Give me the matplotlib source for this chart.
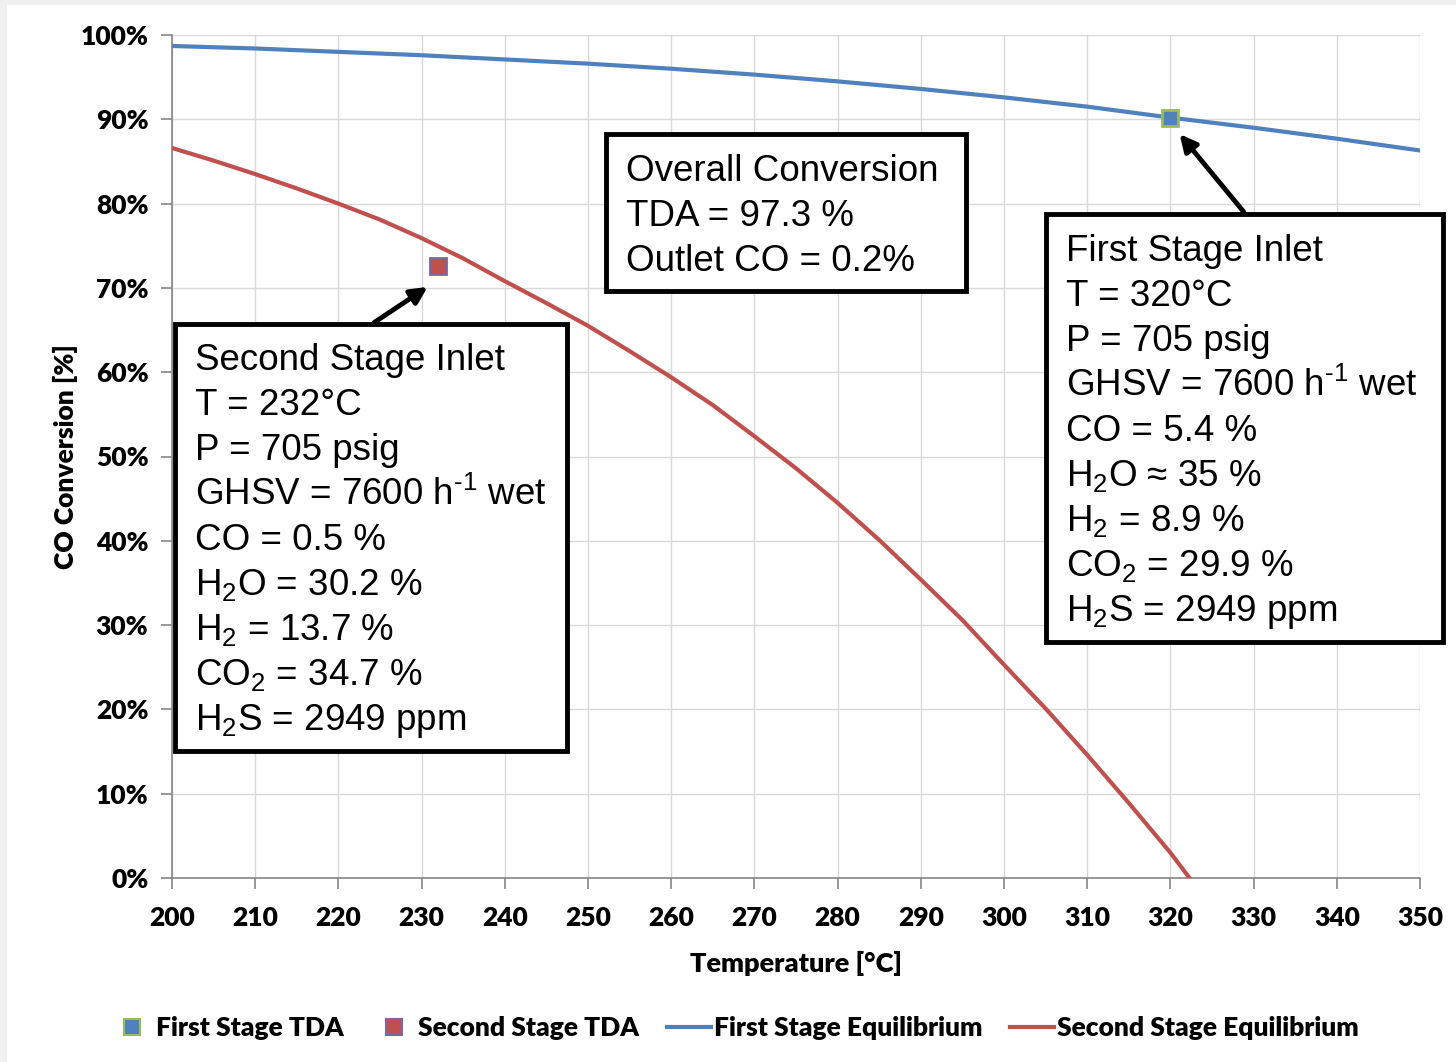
import matplotlib.pyplot as plt
from matplotlib.lines import Line2D
from matplotlib.patches import Rectangle

plt.rcParams['mathtext.fontset'] = 'custom'
plt.rcParams['mathtext.rm'] = 'Liberation Sans'
plt.rcParams['mathtext.it'] = 'Liberation Sans'

# equilibrium curves
temp_eq1 = [200, 210, 220, 230, 240, 250, 260, 270, 280, 290, 300, 310, 320, 330, 340, 350]
conv_eq1 = [98.7, 98.4, 98.0, 97.6, 97.1, 96.6, 96.0, 95.3, 94.5, 93.6, 92.6, 91.5, 90.2, 89.0, 87.7, 86.3]
temp_eq2 = [200, 205, 210, 215, 220, 225, 230, 235, 240, 245, 250, 255, 260, 265, 270,
            275, 280, 285, 290, 295, 300, 305, 310, 315, 320, 322.3]
conv_eq2 = [86.6, 85.1, 83.5, 81.8, 80.0, 78.1, 75.9, 73.5, 70.8, 68.2, 65.5, 62.5, 59.4, 56.1, 52.4,
            48.6, 44.5, 40.1, 35.4, 30.6, 25.3, 20.1, 14.6, 8.9, 3.0, 0.0]

# TDA measurements
temp_tda1 = [320]
conv_tda1 = [90.2]
temp_tda2 = [232]
conv_tda2 = [72.6]

xticks = list(range(200, 351, 10))
yticks = list(range(0, 101, 10))

box_overall = ["Overall Conversion", "TDA = 97.3 %", "Outlet CO = 0.2%"]
box_second = ["Second Stage Inlet", "T = 232°C", "P = 705 psig",
              "GHSV = 7600 h$^{\u20101}$ wet", "CO = 0.5 %", "H$_2$O = 30.2 %",
              "H$_2$ = 13.7 %", "CO$_2$ = 34.7 %", "H$_2$S = 2949 ppm"]
box_first = ["First Stage Inlet", "T = 320°C", "P = 705 psig",
             "GHSV = 7600 h$^{\u20101}$ wet", "CO = 5.4 %", "H$_2$O ≈ 35 %",
             "H$_2$ = 8.9 %", "CO$_2$ = 29.9 %", "H$_2$S = 2949 ppm"]

blue = '#4F81BD'
red = '#C0504D'
W, H = 1456, 1062

fig = plt.figure(figsize=(W / 100, H / 100), dpi=100, facecolor='#F0F0F0')
fig.patches.append(Rectangle((7 / W, 0), 1, 1 - 5 / H, transform=fig.transFigure,
                             facecolor='white', edgecolor='none', zorder=-10))

def px(x, y):
    return x / W, 1 - y / H

ax = fig.add_axes([172 / W, 1 - 878 / H, (1420 - 172) / W, (878 - 35) / H])
ax.set_xlim(200, 350)
ax.set_ylim(0, 100)
ax.set_xticks(xticks)
ax.set_yticks(yticks)
ax.set_yticklabels([f'{v}%' for v in yticks])
ax.grid(True, color='#D9D9D9', linewidth=1)
ax.set_axisbelow(True)
for s in ['top', 'right']:
    ax.spines[s].set_visible(False)
for s in ['left', 'bottom']:
    ax.spines[s].set_color('#868686')
    ax.spines[s].set_linewidth(1.2)
ax.tick_params(length=8, color='#868686', width=1.2)
ax.tick_params(axis='x', pad=12)
ax.tick_params(axis='y', pad=9)
for lab in ax.get_xticklabels() + ax.get_yticklabels():
    lab.set_fontfamily('Lato')
    lab.set_fontweight('heavy')
    lab.set_fontsize(19)

ax.plot(temp_eq1, conv_eq1, color=blue, lw=3, label='First Stage Equilibrium', zorder=3)
ax.plot(temp_eq2, conv_eq2, color=red, lw=3, label='Second Stage Equilibrium', zorder=3)
ax.plot(temp_tda1, conv_tda1, 's', color=blue, mec='#9BBB59', mew=2, ms=12,
        label='First Stage TDA', zorder=4, clip_on=False)
ax.plot(temp_tda2, conv_tda2, 's', color=red, mec='#8064A2', mew=2, ms=12,
        label='Second Stage TDA', zorder=4, clip_on=False)

ax.set_xlabel('Temperature [°C]', fontfamily='Lato', fontweight='heavy', fontsize=19.5, labelpad=15)
ax.set_ylabel('CO Conversion [%]', fontfamily='Lato', fontweight='heavy', fontsize=19, labelpad=2)

# arrows
ax.annotate('', xy=(231.0, 70.3), xytext=(224.0, 65.7),
            arrowprops=dict(arrowstyle='-|>,head_length=1.0,head_width=0.5', color='black', lw=3.5),
            zorder=6)
ax.annotate('', xy=(320.9, 88.5), xytext=(329.0, 78.8),
            arrowprops=dict(arrowstyle='-|>,head_length=1.0,head_width=0.5', color='black', lw=3.5),
            zorder=6)

# text boxes
def text_box(lines, left, top, right, bottom, first_y):
    x0, y0 = px(left, bottom)
    x1, y1 = px(right, top)
    fig.patches.append(Rectangle((x0, y0), x1 - x0, y1 - y0, transform=fig.transFigure,
                                 facecolor='white', edgecolor='black', lw=3.5, zorder=5))
    for i, t in enumerate(lines):
        fig.text(*px(left + 20, first_y + 45 * i), t, fontfamily='Liberation Sans',
                 fontsize=26.5, va='baseline', ha='left', zorder=7)

text_box(box_overall, 606, 134, 966, 291, 181)
text_box(box_second, 175, 324, 567, 751, 370)
text_box(box_first, 1046, 214, 1443, 642, 261)

handles = [
    Line2D([], [], ls='none', marker='s', color=blue, mec='#9BBB59', mew=1.5, ms=11),
    Line2D([], [], ls='none', marker='s', color=red, mec='#8064A2', mew=1.5, ms=11),
    Line2D([], [], color=blue, lw=3),
    Line2D([], [], color=red, lw=3),
]
labels = ['First Stage TDA', 'Second Stage TDA', 'First Stage Equilibrium', 'Second Stage Equilibrium']
fig.legend(handles, labels, loc='center', bbox_to_anchor=(px(734, 1028)), ncol=4, frameon=False,
           prop={'family': 'Lato', 'weight': 'heavy', 'size': 19}, handlelength=1.67,
           handletextpad=0.1, columnspacing=1.05)

fig.savefig('out.png', dpi=100, facecolor=fig.get_facecolor())
